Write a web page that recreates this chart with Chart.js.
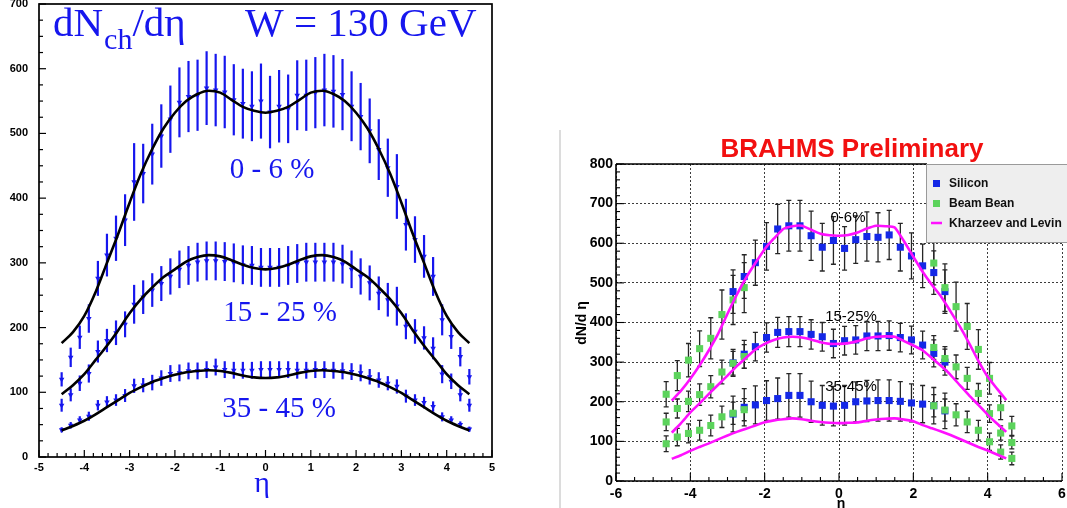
<!DOCTYPE html>
<html>
<head>
<meta charset="utf-8">
<title>dN/deta</title>
<script src="https://cdn.jsdelivr.net/npm/chart.js@4.4.1/dist/chart.umd.min.js"></script>
<style>
  body { margin: 0; background: #fff; }
  #wrap { position: relative; width: 1067px; height: 508px; overflow: hidden; background: #fff; }
  #leftChart { position: absolute; left: 0; top: 0; }
  #rightChart { position: absolute; left: 555px; top: 120px; }
</style>
</head>
<body>
<div id="wrap">
  <canvas id="leftChart" width="500" height="508"></canvas>
  <canvas id="rightChart" width="512" height="388"></canvas>
</div>
<script>
// ---------- left panel data (W = 130 GeV) ----------
var etaL = [-4.5,-4.3,-4.1,-3.9,-3.7,-3.5,-3.3,-3.1,-2.9,-2.7,-2.5,-2.3,-2.1,-1.9,-1.7,-1.5,-1.3,-1.1,-0.9,-0.7,-0.5,-0.3,-0.1,
            0.1,0.3,0.5,0.7,0.9,1.1,1.3,1.5,1.7,1.9,2.1,2.3,2.5,2.7,2.9,3.1,3.3,3.5,3.7,3.9,4.1,4.3,4.5];
var c06L = [120,154,185,214,276,312,338,366,425,438,468,496,522,548,557,559,570,567,564,552,546,542,550,
            533,542,538,559,559,563,567,565,560,542,526,504,475,447,418,359,336,310,279,212,186,155,124];
var e06L = [11,15,18,22,27,33,35,40,60,46,47,49,52,54,55,55,57,56,56,55,54,54,58,
            56,56,53,54,55,55,56,56,55,54,52,50,47,45,50,40,36,33,30,24,19,15,12];
var c1525L = [80,96,114,129,163,180,192,205,236,247,258,268,279,290,296,301,303,303,302,300,297,296,293,
              293,293,296,299,301,301,301,301,298,290,279,269,253,243,233,202,194,184,168,128,117,96,80];
var e1525L = [10,10,12,14,17,18,19,20,30,26,26,27,28,29,30,30,30,30,30,30,30,30,30,
              30,30,30,30,30,30,30,30,30,29,28,27,26,26,30,20,19,18,17,14,12,10,10];
var c3545L = [42,49,57,63,80,85,88,95,110,111,115,122,129,130,133,133,135,139,135,134,134,134,135,
              135,135,135,134,134,135,135,134,133,132,130,124,119,114,109,94,88,84,78,62,57,50,43];
var e3545L = [4,5,6,7,8,9,9,10,11,11,12,12,13,13,13,13,13,13,13,13,13,13,13,
              13,13,13,13,13,13,13,13,13,13,13,12,12,11,11,10,9,9,8,7,6,5,4];

// fitted curves, eta step 0.25
var etaFit = [-4.5,-4.25,-4,-3.75,-3.5,-3.25,-3,-2.75,-2.5,-2.25,-2,-1.75,-1.5,-1.25,-1,-0.75,-0.5,-0.25,0,
              0.25,0.5,0.75,1,1.25,1.5,1.75,2,2.25,2.5,2.75,3,3.25,3.5,3.75,4,4.25,4.5];
var fit06 = [176,193,218,255,300,345,393,438,476,508,532,550,561,566,563,552,541,535,532,
             535,541,552,563,566,561,550,532,508,476,438,393,345,300,255,218,193,176];
var fit1525 = [97,111,128,150,172,196,222,244,262,278,290,302,309,312,310,304,297,292,290,
               292,297,304,310,312,309,302,290,278,262,244,222,196,172,150,128,111,97];
var fit3545 = [41,48,56,66,77,88,99,108,116,122,127,131,133,134,133,130,126,123,122,
               123,126,130,133,134,133,131,127,122,116,108,99,88,77,66,56,48,41];
var labelsL = ['0 - 6 %', '15 - 25 %', '35 - 45 %'];

// ---------- right panel data (BRAHMS preliminary) ----------
var etaSi = [-2.85,-2.55,-2.25,-1.95,-1.65,-1.35,-1.05,-0.75,-0.45,-0.15,0.15,0.45,0.75,1.05,1.35,1.65,1.95,2.25,2.55,2.85];
var si06 = [478,516,551,592,636,644,644,619,590,607,587,609,617,615,621,590,568,543,526,478];
var si06e = [55,55,57,60,62,64,64,62,60,60,55,60,62,62,62,60,58,55,55,55];
var si1525 = [298,320,339,362,375,377,377,370,364,347,354,356,366,366,367,362,356,343,322,300];
var si1525e = [34,35,36,37,38,38,38,37,36,36,36,36,37,37,37,36,35,35,34,33];
var si3545 = [169,186,192,203,208,216,216,200,191,189,191,200,202,203,203,201,197,194,190,177];
var si3545e = [45,47,48,50,52,55,55,52,50,50,50,50,52,52,52,50,48,47,46,45];

var etaBB = [-4.65,-4.35,-4.05,-3.75,-3.45,-3.15,-2.85,-2.55,2.55,2.85,3.15,3.45,3.75,4.05,4.35,4.65];
var bb06 = [219,266,305,334,360,420,457,488,550,488,440,390,332,259,185,139];
var bb06e = [32,38,42,45,52,62,62,63,55,60,62,58,50,40,30,24];
var bb1525 = [149,183,201,218,238,275,297,314,337,309,288,259,221,170,121,97];
var bb1525e = [22,24,26,27,28,30,30,30,30,30,30,28,25,22,18,16];
var bb3545 = [94,111,120,128,140,162,171,180,190,179,167,149,128,99,73,57];
var bb3545e = [20,22,24,25,26,27,28,28,28,28,28,27,25,22,18,16];

var etaKL = etaFit;
var kl06 = [203,228,258,292,330,372,422,470,513,550,585,612,636,643,644,634,624,620,619,
            621,627,637,644,643,640,605,566,528,495,465,428,390,348,303,263,233,204];
var kl1525 = [122,146,173,196,220,243,266,290,311,332,346,356,362,364,362,357,350,346,346,
              348,353,360,364,365,364,353,342,330,310,290,268,242,216,192,167,145,124];
var kl3545 = [56,65,76,86,95,105,115,124,132,140,148,153,156,158,156,152,149,147,146,
              147,148,152,155,157,158,155,151,141,133,125,116,106,96,86,77,67,57];
var labelsR = ['0-6%', '15-25%', '35-45%'];
var legendR = ['Silicon', 'Beam Bean', 'Kharzeev and Levin'];

var BLUE_L = '#1616ee';
var SI_BLUE = '#1428e6';
var BB_GREEN = '#5cd35c';
var KL_MAG = '#ff10ff';

function pts(xs, ys) {
  var out = [];
  for (var i = 0; i < xs.length; i++) {
    out.push({x: xs[i], y: ys[i]});
  }
  return out;
}

// vertical error bars, drawn under the markers
function drawErrBars(chart) {
  var ctx = chart.ctx;
  var xs = chart.scales.x, ys = chart.scales.y;
  ctx.save();
  chart.data.datasets.forEach(function(ds) {
    if (!ds.err) return;
    ctx.strokeStyle = ds.errColor;
    ctx.lineWidth = ds.errWidth;
    ds.data.forEach(function(p, i) {
      var px = xs.getPixelForValue(p.x);
      var top = ys.getPixelForValue(p.y + ds.err[i]);
      var bot = ys.getPixelForValue(p.y - ds.err[i]);
      ctx.beginPath();
      ctx.moveTo(px, top); ctx.lineTo(px, bot);
      if (ds.errCap) {
        ctx.moveTo(px - ds.errCap, top); ctx.lineTo(px + ds.errCap, top);
        ctx.moveTo(px - ds.errCap, bot); ctx.lineTo(px + ds.errCap, bot);
      }
      ctx.stroke();
    });
  });
  ctx.restore();
}

function seg(ctx, x1, y1, x2, y2) {
  ctx.beginPath(); ctx.moveTo(x1, y1); ctx.lineTo(x2, y2); ctx.stroke();
}

// ---------- left chart ----------
var leftDecor = {
  id: 'leftDecor',
  beforeDatasetsDraw: function(chart) { drawErrBars(chart); },
  afterDraw: function(chart) {
    var ctx = chart.ctx, a = chart.chartArea;
    var xs = chart.scales.x, ys = chart.scales.y;
    ctx.save();
    ctx.strokeStyle = '#000';
    ctx.lineWidth = 1.7;
    ctx.strokeRect(a.left, a.top, a.right - a.left, a.bottom - a.top);
    ctx.lineWidth = 1.2;
    for (var i = 0; i <= 50; i++) {
      var px = xs.getPixelForValue(-5 + i * 0.2);
      seg(ctx, px, a.bottom, px, a.bottom - (i % 5 == 0 ? 7 : 4));
    }
    for (var j = 0; j <= 28; j++) {
      var py = ys.getPixelForValue(j * 25);
      seg(ctx, a.left, py, a.left + (j % 4 == 0 ? 7 : 4), py);
    }

    ctx.fillStyle = BLUE_L;
    ctx.textBaseline = 'alphabetic';
    ctx.textAlign = 'left';
    ctx.font = '41px "Liberation Serif"';
    ctx.fillText('dN', 53, 36);
    var w1 = ctx.measureText('dN').width;
    ctx.font = '30px "Liberation Serif"';
    ctx.fillText('ch', 53 + w1 + 1, 49);
    var w2 = ctx.measureText('ch').width;
    ctx.font = '41px "Liberation Serif"';
    ctx.fillText('/d\u03b7', 53 + w1 + w2 + 1, 36);
    ctx.fillText('W = 130 GeV', 245, 36);

    ctx.textAlign = 'center';
    ctx.font = '29px "Liberation Serif"';
    ctx.fillText(labelsL[0], 272, 178);
    ctx.fillText(labelsL[1], 280, 321);
    ctx.fillText(labelsL[2], 279, 417);
    ctx.font = '30px "Liberation Serif"';
    ctx.fillText('\u03b7', 262, 492);
    ctx.restore();
  }
};

function fitSet(vals) {
  return {
    data: pts(etaFit, vals), showLine: true, borderColor: '#000', borderWidth: 2.6,
    pointRadius: 0, cubicInterpolationMode: 'monotone', fill: false
  };
}
function markSet(vals, errs) {
  return {
    data: pts(etaL, vals), err: errs, errColor: BLUE_L, errWidth: 2.2, errCap: 0,
    showLine: false, pointStyle: 'triangle', rotation: 180, pointRadius: 3.2,
    backgroundColor: BLUE_L, borderColor: BLUE_L, borderWidth: 0
  };
}

var tickFontL = {family: 'Liberation Sans', size: 11, weight: 'bold'};
new Chart(document.getElementById('leftChart'), {
  type: 'scatter',
  data: {
    datasets: [fitSet(fit06), fitSet(fit1525), fitSet(fit3545),
               markSet(c06L, e06L), markSet(c1525L, e1525L), markSet(c3545L, e3545L)]
  },
  options: {
    responsive: false, animation: false, devicePixelRatio: 1,
    layout: {padding: {left: 0, top: 4, right: 8, bottom: 0}},
    plugins: {legend: {display: false}, tooltip: {enabled: false}},
    scales: {
      x: {
        type: 'linear', min: -5, max: 5,
        grid: {display: false, drawTicks: false}, border: {display: false},
        ticks: {stepSize: 1, autoSkip: false, maxRotation: 0, padding: 4, color: '#000', font: tickFontL},
        afterFit: function(s) { s.height = 51; s.paddingLeft = 0; s.paddingRight = 0; }
      },
      y: {
        type: 'linear', min: 0, max: 700,
        grid: {display: false, drawTicks: false}, border: {display: false},
        ticks: {stepSize: 100, autoSkip: false, padding: 11, color: '#000', font: tickFontL},
        afterFit: function(s) { s.width = 39; s.paddingTop = 0; s.paddingBottom = 0; }
      }
    }
  },
  plugins: [leftDecor]
});

// ---------- right chart ----------
var rightDecor = {
  id: 'rightDecor',
  beforeDatasetsDraw: function(chart) { drawErrBars(chart); },
  afterDraw: function(chart) {
    var ctx = chart.ctx, a = chart.chartArea;
    var xs = chart.scales.x, ys = chart.scales.y;
    ctx.save();
    // panel edge
    ctx.strokeStyle = '#dcdcdc';
    ctx.lineWidth = 2;
    seg(ctx, 5, 10, 5, 388);
    // frame
    ctx.strokeStyle = '#000';
    ctx.lineWidth = 1.6;
    seg(ctx, a.left, a.top, a.left, a.bottom);
    seg(ctx, a.left, a.bottom, a.right, a.bottom);
    seg(ctx, a.left, a.top, 372, a.top);
    ctx.lineWidth = 1.1;
    for (var i = 0; i <= 24; i++) {
      var px = xs.getPixelForValue(-6 + i * 0.5);
      seg(ctx, px, a.bottom, px, a.bottom - (i % 4 == 0 ? 8 : 4));
    }
    for (var j = 0; j <= 40; j++) {
      var py = ys.getPixelForValue(j * 20);
      seg(ctx, a.left, py, a.left + (j % 5 == 0 ? 8 : 4), py);
    }

    // legend box
    var lx = 371, ly = 44, lw = 145, lh = 78;
    ctx.fillStyle = '#eeeeee';
    ctx.fillRect(lx, ly, lw, lh);
    ctx.strokeStyle = '#9a9a9a';
    ctx.lineWidth = 1;
    ctx.strokeRect(lx + 0.5, ly + 0.5, lw, lh);
    ctx.fillStyle = SI_BLUE;
    ctx.fillRect(378, 60, 7, 7);
    ctx.fillStyle = BB_GREEN;
    ctx.fillRect(378, 80, 7, 7);
    ctx.strokeStyle = KL_MAG;
    ctx.lineWidth = 2.5;
    seg(ctx, 376, 103, 387, 103);
    ctx.fillStyle = '#111';
    ctx.font = 'bold 12px "Liberation Sans"';
    ctx.textAlign = 'left';
    ctx.textBaseline = 'middle';
    ctx.fillText(legendR[0], 394, 64);
    ctx.fillText(legendR[1], 394, 84);
    ctx.fillText(legendR[2], 394, 104);

    // title and annotations
    ctx.textAlign = 'center';
    ctx.textBaseline = 'alphabetic';
    ctx.fillStyle = '#f21010';
    ctx.font = 'bold 26px "Liberation Sans"';
    ctx.fillText('BRAHMS Preliminary', 297, 37);
    ctx.fillStyle = '#000';
    ctx.font = '15px "Liberation Sans"';
    ctx.textBaseline = 'middle';
    ctx.fillText(labelsR[0], 293, 98);
    ctx.fillText(labelsR[1], 296, 197);
    ctx.fillText(labelsR[2], 296, 267);

    ctx.font = 'bold 14px "Liberation Sans"';
    ctx.textBaseline = 'alphabetic';
    ctx.fillText('\u03b7', 286, 388);
    ctx.translate(27, 203);
    ctx.rotate(-Math.PI / 2);
    ctx.textBaseline = 'middle';
    ctx.fillText('dN/d \u03b7', 0, 0);
    ctx.restore();
  }
};

function klSet(vals) {
  return {
    data: pts(etaKL, vals), showLine: true, borderColor: KL_MAG, borderWidth: 2.6,
    pointRadius: 0, tension: 0.15, fill: false
  };
}
function sqSet(xs, vals, errs, col) {
  return {
    data: pts(xs, vals), err: errs, errColor: '#262626', errWidth: 1.3, errCap: 2.5,
    showLine: false, pointStyle: 'rect', pointRadius: 5,
    backgroundColor: col, borderColor: col, borderWidth: 0
  };
}

var tickFontR = {family: 'Liberation Sans', size: 14, weight: 'bold'};
new Chart(document.getElementById('rightChart'), {
  type: 'scatter',
  data: {
    datasets: [klSet(kl06), klSet(kl1525), klSet(kl3545),
               sqSet(etaBB, bb06, bb06e, BB_GREEN), sqSet(etaBB, bb1525, bb1525e, BB_GREEN), sqSet(etaBB, bb3545, bb3545e, BB_GREEN),
               sqSet(etaSi, si06, si06e, SI_BLUE), sqSet(etaSi, si1525, si1525e, SI_BLUE), sqSet(etaSi, si3545, si3545e, SI_BLUE)]
  },
  options: {
    responsive: false, animation: false, devicePixelRatio: 1,
    layout: {padding: {left: 0, top: 44, right: 1, bottom: 0}},
    plugins: {legend: {display: false}, tooltip: {enabled: false}},
    scales: {
      x: {
        type: 'linear', min: -6, max: 6,
        grid: {color: '#3c3c3c', lineWidth: 1, drawTicks: false}, border: {display: false, dash: [2, 2]},
        ticks: {stepSize: 2, autoSkip: false, maxRotation: 0, padding: 5, color: '#000', font: tickFontR},
        afterFit: function(s) { s.height = 27; s.paddingLeft = 0; s.paddingRight = 0; }
      },
      y: {
        type: 'linear', min: 0, max: 800,
        grid: {color: '#3c3c3c', lineWidth: 1, drawTicks: false}, border: {display: false, dash: [2, 2]},
        ticks: {stepSize: 100, autoSkip: false, padding: 3, color: '#000', font: tickFontR},
        afterFit: function(s) { s.width = 61; s.paddingTop = 0; s.paddingBottom = 0; }
      }
    }
  },
  plugins: [rightDecor]
});
</script>
</body>
</html>
